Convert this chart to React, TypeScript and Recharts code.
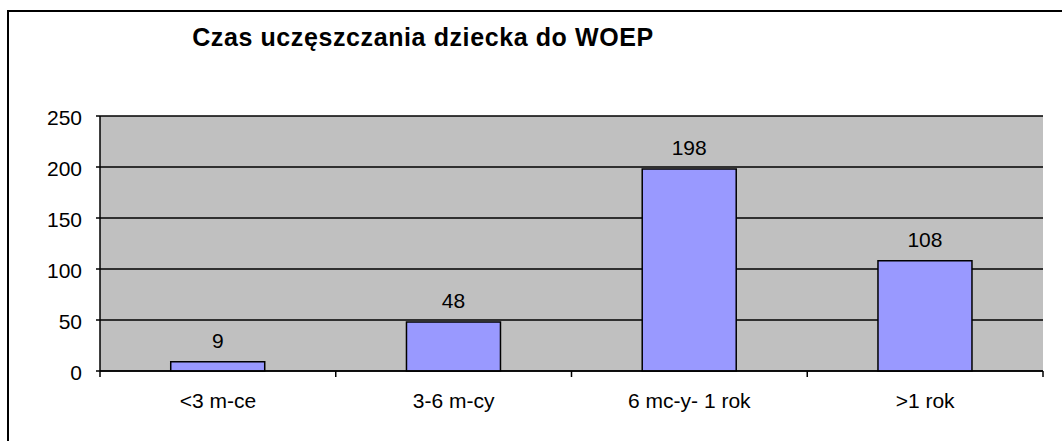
import React from "react";
import { BarChart, Bar, XAxis, YAxis, CartesianGrid, LabelList } from "recharts";

const categories = ["<3 m-ce", "3-6 m-cy", "6 mc-y- 1 rok", ">1 rok"];
const values = [9, 48, 198, 108];
const yTicks = [0, 50, 100, 150, 200, 250];
const title = "Czas uczęszczania dziecka do WOEP";

const data = categories.map((c, i) => ({ name: c, value: values[i] }));

const FONT = "'Liberation Sans', Arial, sans-serif";
const TICK_SIZE = 6;
const TICK_MARGIN = 16;

function CategoryTick(props: any) {
  const { x, y, payload, index, visibleTicksCount } = props;
  const half = payload && typeof payload.offset === "number" ? payload.offset : 0;
  const axisY = y - TICK_SIZE - TICK_MARGIN;
  const isLast = index === visibleTicksCount - 1;
  return (
    <g>
      <line x1={x - half} x2={x - half} y1={axisY} y2={axisY + TICK_SIZE} stroke="#000" strokeWidth={1.5} />
      {isLast && <line x1={x + half} x2={x + half} y1={axisY} y2={axisY + TICK_SIZE} stroke="#000" strokeWidth={1.5} />}
      <text x={x} y={y} dy="0.71em" textAnchor="middle" fill="#000" fontSize={21} fontFamily={FONT}>
        {payload.value}
      </text>
    </g>
  );
}

export default function App() {
  return (
    <div style={{ position: "absolute", left: 0, top: 0, width: 1062, height: 441, overflow: "hidden", background: "#fff" }}>
      <div style={{ position: "absolute", left: 7, top: 10, width: 1200, height: 600, border: "2px solid #000", boxSizing: "border-box" }} />
      <div style={{ position: "absolute", left: 0, top: 0 }}>
        <BarChart width={1062} height={441} data={data} margin={{ top: 116, right: 19, bottom: 30, left: 40 }} barCategoryGap="30%">
          <CartesianGrid vertical={false} horizontal={true} stroke="#000" strokeWidth={1.5} fill="#C0C0C0" fillOpacity={1} />
          <XAxis xAxisId="top" orientation="top" dataKey="name" tick={false} tickLine={false} axisLine={{ stroke: "#808080", strokeWidth: 2 }} height={0} />
          <XAxis dataKey="name" tickLine={false} axisLine={{ stroke: "#000", strokeWidth: 1.5 }} tickSize={TICK_SIZE} tickMargin={TICK_MARGIN} height={40} tick={<CategoryTick />} interval={0} />
          <YAxis domain={[0, 250]} ticks={yTicks} width={60} tickSize={4} tickMargin={14} axisLine={{ stroke: "#000", strokeWidth: 1.5 }} tickLine={{ stroke: "#000", strokeWidth: 1.5 }} tick={{ fill: "#000", fontSize: 21, fontFamily: FONT, dy: 2 }} interval={0} />
          <YAxis yAxisId="right" orientation="right" domain={[0, 250]} width={0} tick={false} tickLine={false} axisLine={{ stroke: "#808080", strokeWidth: 2 }} />
          <Bar dataKey="value" fill="#9999FF" stroke="#000" strokeWidth={1.5} isAnimationActive={false}>
            <LabelList dataKey="value" position="top" offset={14} fill="#000" fontSize={21} fontFamily={FONT} />
          </Bar>
        </BarChart>
      </div>
      <div style={{ position: "absolute", left: 0, width: 846, top: 23, textAlign: "center", fontFamily: FONT, fontWeight: "bold", fontSize: 25, letterSpacing: 0.6, color: "#000", lineHeight: "28px", whiteSpace: "nowrap" }}>
        {title}
      </div>
    </div>
  );
}
